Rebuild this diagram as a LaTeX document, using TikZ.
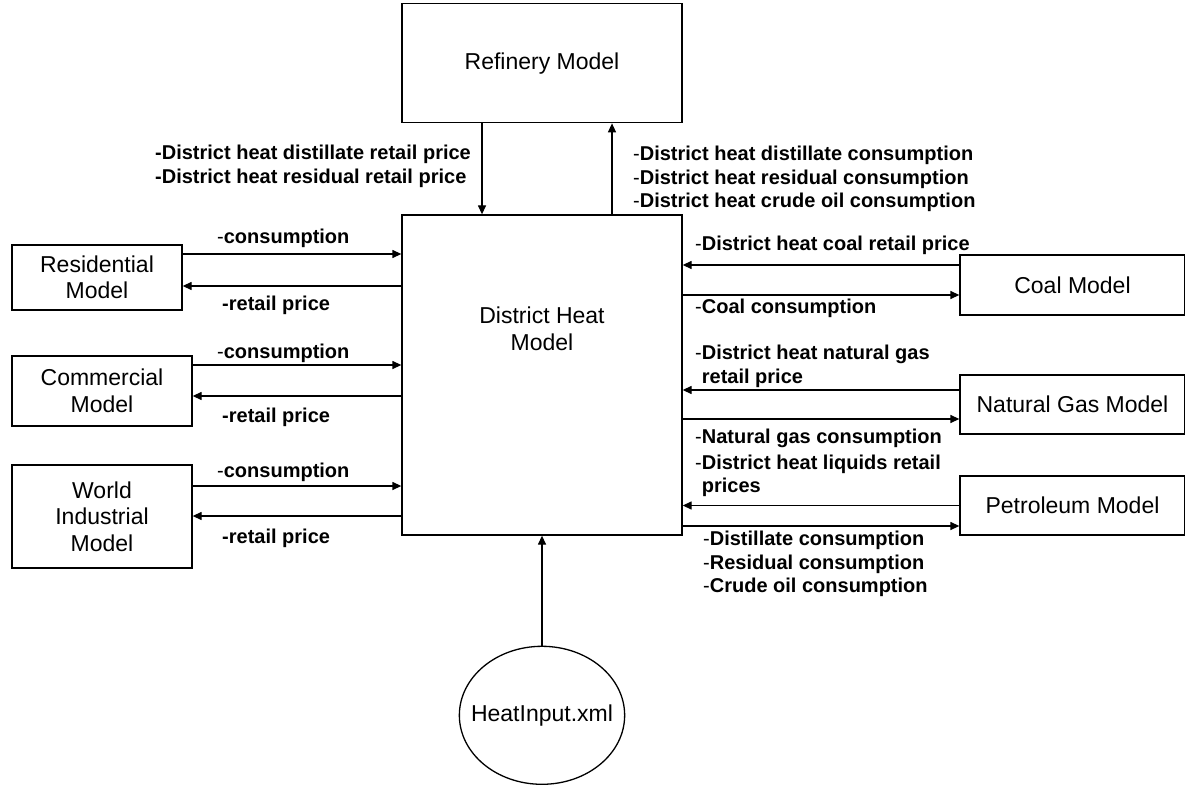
\documentclass[tikz,border=0pt]{standalone}
\usepackage{fontspec}
\setmainfont{Liberation Sans}
\usetikzlibrary{positioning,shapes.geometric,arrows.meta}

\begin{document}
\begin{tikzpicture}[x=1pt, y=-1pt, node distance=1cm]
  % Define styles
  \tikzstyle{model}=[rectangle, draw=black, line width=1.3pt, inner sep=0pt, align=center, font=\fontsize{23}{26.5}\selectfont]
  \tikzstyle{datafile}=[ellipse, draw=black, line width=1.3pt, inner xsep=-12.5pt, inner ysep=0pt, minimum width=160pt, minimum height=138pt, font=\fontsize{23}{26.5}\selectfont]
  \tikzstyle{flow}=[-{Triangle[length=9pt,width=8pt]}, line width=1.3pt]
  \tikzstyle{info}=[anchor=west, inner sep=0pt, align=left, font=\fontsize{20}{23.5}\selectfont]

  \useasboundingbox (0,0) rectangle (1185,786);

  % Models
  \node[model, minimum width=280pt, minimum height=320pt] (dh) at (542,375) {};
  \node[inner sep=0pt, align=center, font=\fontsize{23}{26.5}\selectfont] (dhname) at ([yshift=46pt]dh.center) {District Heat\\Model};
  \node[model, minimum width=280pt, minimum height=119pt, above=91pt of dh] (refinery) {Refinery Model};
  \node[datafile, below=110pt of dh] (heat) {HeatInput.xml};
  \node[model, minimum width=170pt, minimum height=65pt] (res) at (97,277.5) {Residential\\Model};
  \node[model, minimum width=180pt, minimum height=70pt] (com) at (102,391) {Commercial\\Model};
  \node[model, minimum width=180pt, minimum height=103pt] (world) at (102,516.5) {World\\Industrial\\Model};
  \node[model, minimum width=225pt, minimum height=60pt] (coal) at (1072.5,285) {Coal Model};
  \node[model, minimum width=225pt, minimum height=59pt] (gas) at (1072.5,404.5) {Natural Gas Model};
  \node[model, minimum width=225pt, minimum height=59pt] (petroleum) at (1072.5,505.5) {Petroleum Model};

  % Flows
  \draw[flow] ([xshift=-60pt]refinery.south) -- ([xshift=-60pt]dh.north);
  \draw[flow] ([xshift=70pt]dh.north) -- ([xshift=70pt]refinery.south);
  \draw[flow] (heat.north) -- (heat.north |- dh.south);
  \draw[flow] ([yshift=23.5pt]res.east) -- ([yshift=23.5pt]res.east -| dh.west);
  \draw[flow] ([yshift=-8.5pt]res.east -| dh.west) -- ([yshift=-8.5pt]res.east);
  \draw[flow] ([yshift=26pt]com.east) -- ([yshift=26pt]com.east -| dh.west);
  \draw[flow] ([yshift=-5pt]com.east -| dh.west) -- ([yshift=-5pt]com.east);
  \draw[flow] ([yshift=30.5pt]world.east) -- ([yshift=30.5pt]world.east -| dh.west);
  \draw[flow] ([yshift=0.5pt]world.east -| dh.west) -- ([yshift=0.5pt]world.east);
  \draw[flow] ([yshift=20pt]coal.west) -- ([yshift=20pt]coal.west -| dh.east);
  \draw[flow] ([yshift=-10pt]coal.west -| dh.east) -- ([yshift=-10pt]coal.west);
  \draw[flow] ([yshift=14.5pt]gas.west) -- ([yshift=14.5pt]gas.west -| dh.east);
  \draw[flow] ([yshift=-14.5pt]gas.west -| dh.east) -- ([yshift=-14.5pt]gas.west);
  \draw[flow] (petroleum.west) -- (petroleum.west -| dh.east);
  \draw[flow] ([yshift=-20.5pt]petroleum.west -| dh.east) -- ([yshift=-20.5pt]petroleum.west);

  % Labels
  \node[info] (refprice) at (155,166.5) {\textbf{-District heat distillate retail price}\\\textbf{-District heat residual retail price}};
  \node[info] (refcons) at (633,179) {-\textbf{District heat distillate consumption}\\-\textbf{District heat residual consumption}\\-\textbf{District heat crude oil consumption}};
  \node[info] (rescons) at (217,238) {-\textbf{consumption}};
  \node[info] (resprice) at (222,305) {\textbf{-retail price}};
  \node[info] (comcons) at (217,353) {-\textbf{consumption}};
  \node[info] (comprice) at (222,417) {\textbf{-retail price}};
  \node[info] (worldcons) at (217,472) {-\textbf{consumption}};
  \node[info] (worldprice) at (222,538) {\textbf{-retail price}};
  \node[info] (coalprice) at (695,245) {-\textbf{District heat coal retail price}};
  \node[info] (coalcons) at (695,308) {-\textbf{Coal consumption}};
  \node[info] (gasprice) at (695,366.5) {-\textbf{District heat natural gas}\\\phantom{-}\textbf{retail price}};
  \node[info] (gascons) at (695,438) {-\textbf{Natural gas consumption}};
  \node[info] (petprice) at (695,476) {-\textbf{District heat liquids retail}\\\phantom{-}\textbf{prices}};
  \node[info] (petcons) at (703,564) {-\textbf{Distillate consumption}\\-\textbf{Residual consumption}\\-\textbf{Crude oil consumption}};
\end{tikzpicture}
\end{document}
